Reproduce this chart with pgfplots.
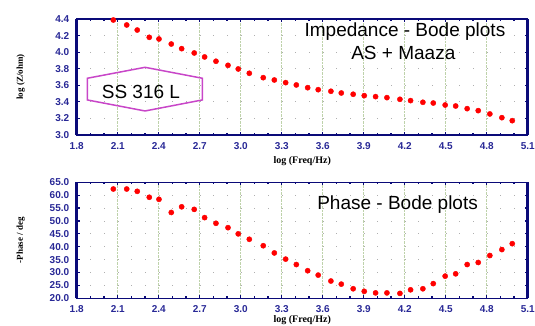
\documentclass[border=0pt]{standalone}
\usepackage{fontspec}
\setmainfont{Liberation Serif}
\newfontfamily\arial{Liberation Sans}
\usepackage{pgfplots}
\pgfplotsset{compat=1.18}
\definecolor{navy}{RGB}{10,10,120}
\definecolor{tickblue}{RGB}{40,40,150}
\definecolor{gridc}{RGB}{190,210,170}
\definecolor{dotc}{RGB}{175,175,175}
\definecolor{hexc}{RGB}{200,70,200}
\pgfplotsset{
  bodeaxis/.style={
    scale only axis, width=451pt, height=116pt,
    xmin=1.8, xmax=5.1,
    xtick={1.8,2.1,2.4,2.7,3.0,3.3,3.6,3.9,4.2,4.5,4.8,5.1},
    minor x tick num=2,
    axis line style={navy, line width=1.3pt},
    every tick/.style={navy, line width=1.2pt},
    major tick length=3pt, minor tick length=2pt,
    tick align=inside,
    xmajorgrids, ymajorgrids,
    x grid style={gridc, densely dotted, line width=0.7pt},
    y grid style={dotc, line width=0.8pt, dash pattern=on 0.8pt off 12.87pt},
    ticklabel style={font=\arial\bfseries\fontsize{10}{12}\selectfont, text=tickblue},
    /pgf/number format/assume math mode=true,
    /pgf/number format/fixed, /pgf/number format/fixed zerofill,
    /pgf/number format/precision=1,
    xticklabel style={yshift=-4pt},
    yticklabel style={xshift=-4pt},
    xlabel={log (Freq/Hz)},
    xlabel style={font=\bfseries\fontsize{10}{12}\selectfont, anchor=center},
    ylabel style={font=\bfseries\fontsize{9}{11}\selectfont, anchor=center, at={(axis description cs:-0.124,0.5)}},
    clip=false,
  },
  redpts/.style={only marks, mark=*, mark size=2.6pt, color=red, mark options={fill=red, draw=red}},
}
\begin{document}
\begin{tikzpicture}
\begin{axis}[bodeaxis, at={(76.7pt,190pt)}, anchor=south west,
  ymin=3.0, ymax=4.4, ytick={3.0,3.2,3.4,3.6,3.8,4.0,4.2,4.4},
  ylabel={log (Z/ohm)},
  xlabel style={at={(axis description cs:0.5,-0.224)}}]
\addplot[redpts] coordinates {
(2.068,4.388) (2.166,4.328) (2.243,4.267) (2.331,4.179) (2.402,4.159)
(2.492,4.098) (2.568,4.042) (2.660,3.990) (2.736,3.942) (2.819,3.890)
(2.907,3.841) (2.982,3.797) (3.063,3.745) (3.165,3.692) (3.246,3.664)
(3.329,3.632) (3.407,3.604) (3.490,3.571) (3.567,3.547) (3.660,3.528)
(3.736,3.507) (3.823,3.492) (3.904,3.475) (3.987,3.463) (4.070,3.451)
(4.165,3.431) (4.243,3.415) (4.333,3.395) (4.409,3.386) (4.496,3.362)
(4.573,3.350) (4.657,3.318) (4.738,3.294) (4.823,3.254) (4.911,3.209)
(4.987,3.173)};
\draw[navy, line width=3pt] (axis cs:1.8,3.0) -- (axis cs:1.8,4.4);
\draw[navy, line width=3pt] (axis cs:5.1,3.0) -- (axis cs:5.1,4.4);
\node[font=\arial\fontsize{19}{22}\selectfont] at (axis cs:4.202,4.243) {Impedance - Bode plots};
\node[font=\arial\fontsize{19}{22}\selectfont] at (axis cs:4.19,3.99) {AS + Maaza};
\draw[hexc, line width=1.5pt] (axis cs:1.878,3.685) -- (axis cs:2.300,3.817) -- (axis cs:2.719,3.685)
  -- (axis cs:2.719,3.423) -- (axis cs:2.300,3.290) -- (axis cs:1.878,3.423) -- cycle;
\node[font=\arial\fontsize{19}{22}\selectfont] at (axis cs:2.27,3.525) {SS 316 L};
\end{axis}
\begin{axis}[bodeaxis, at={(76.7pt,26.7pt)}, anchor=south west,
  ymin=20, ymax=65, ytick={20,25,30,35,40,45,50,55,60,65},
  ylabel={-Phase / deg},
  xlabel style={at={(axis description cs:0.5,-0.19)}}]
\addplot[redpts] coordinates {
(2.068,62.4) (2.166,62.4) (2.243,61.5) (2.331,59.2) (2.402,58.4)
(2.492,53.3) (2.568,55.5) (2.660,54.5) (2.736,51.3) (2.819,49.1)
(2.907,47.4) (2.982,45.0) (3.063,42.9) (3.165,40.4) (3.246,37.6)
(3.329,35.2) (3.407,33.1) (3.490,30.7) (3.567,29.0) (3.660,26.7)
(3.736,25.5) (3.823,23.7) (3.904,22.7) (3.987,22.1) (4.070,22.1)
(4.165,21.9) (4.243,23.3) (4.333,23.7) (4.409,25.7) (4.496,28.6)
(4.573,29.5) (4.657,33.1) (4.738,33.9) (4.823,36.6) (4.911,38.9)
(4.987,41.2)};
\draw[navy, line width=3pt] (axis cs:1.8,20) -- (axis cs:1.8,65);
\draw[navy, line width=3pt] (axis cs:5.1,20) -- (axis cs:5.1,65);
\node[font=\arial\fontsize{19}{22}\selectfont] at (axis cs:4.148,56.2) {Phase - Bode plots};
\end{axis}
\pgfresetboundingbox
\path[use as bounding box] (0pt,0pt) rectangle (535pt,325pt);
\end{tikzpicture}
\end{document}
